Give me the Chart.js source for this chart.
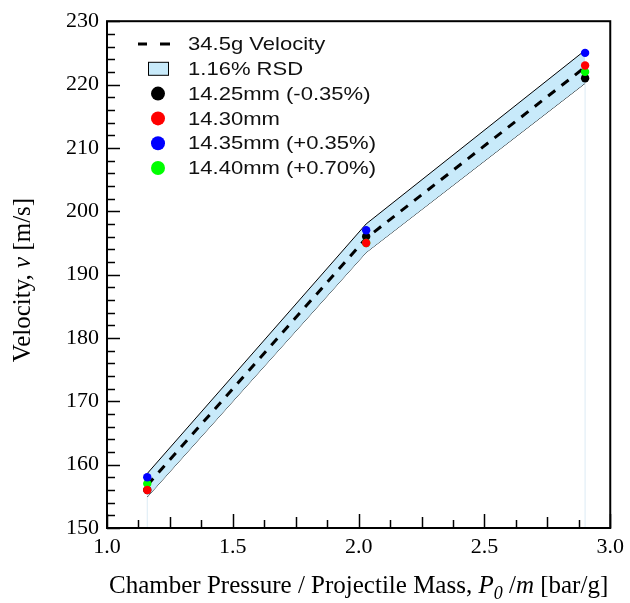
<!DOCTYPE html>
<html>
<head>
<meta charset="utf-8">
<script src="https://cdn.jsdelivr.net/npm/chart.js@4"></script>
<style>
  html, body { margin: 0; padding: 0; background: #fff; }
  #wrap { width: 630px; height: 603px; }
</style>
</head>
<body>
<div id="wrap"><canvas id="c" width="630" height="603"></canvas></div>
<script>
// Chamber pressure per projectile mass [bar/g]
const pressurePerMass = [1.16, 2.03, 2.90];
// Mean muzzle velocity of the 34.5 g projectile [m/s]
const meanVelocity = [156.75, 195.75, 222.75];
// Relative standard deviation band (upper / lower edge) [m/s]
const rsdUpper = [158.6, 198.0, 225.4];
const rsdLower = [154.9, 193.5, 220.2];
// Measured velocities per projectile diameter [m/s]
const v1425 = [156, 196, 221];
const v1430 = [156, 195, 223];
const v1435 = [158, 197, 225];
const v1440 = [157, 195, 222];
// Axis tick labels
const xTicks = [1.0, 1.5, 2.0, 2.5, 3.0];
const yTicks = [150, 160, 170, 180, 190, 200, 210, 220, 230];

const bandColor = '#c8eafa';
const serif = "'Liberation Serif', 'Times New Roman', serif";
const sans = "'Liberation Sans', Arial, sans-serif";

const pts = ys => pressurePerMass.map((x, i) => ({ x, y: ys[i] }));
const xMin = xTicks[0], xMax = xTicks[xTicks.length - 1];
const yMin = yTicks[0], yMax = yTicks[yTicks.length - 1];

// faint guide lines under the outer band ends
const last = pressurePerMass.length - 1;
const guides = [
  { x: pressurePerMass[0], y: yMin }, { x: pressurePerMass[0], y: rsdLower[0] },
  { x: pressurePerMass[0], y: null },
  { x: pressurePerMass[last], y: yMin }, { x: pressurePerMass[last], y: v1425[last] }
];

const marker = (label, ys, color, order) => ({
  label, data: pts(ys), order, showLine: false,
  pointRadius: 4.2, pointHoverRadius: 4.2, pointBorderWidth: 0,
  pointBackgroundColor: color, borderColor: color, backgroundColor: color
});

const datasets = [
  marker('14.35mm (+0.35%)', v1435, '#0000ff', 1),
  marker('14.30mm', v1430, '#ff0000', 2),
  marker('14.40mm (+0.70%)', v1440, '#00ff00', 3),
  marker('14.25mm (-0.35%)', v1425, '#000000', 4),
  { label: '34.5g Velocity', data: pts(meanVelocity), order: 5, showLine: true,
    borderColor: '#000', borderWidth: 3, borderDash: [9, 8], pointRadius: 0, fill: false },
  { label: '1.16% RSD', data: pts(rsdUpper), order: 6, showLine: true,
    borderColor: '#000', borderWidth: 1, pointRadius: 0, fill: '+1', backgroundColor: bandColor },
  { label: 'rsd-lower', data: pts(rsdLower), order: 7, showLine: true,
    borderColor: '#000', borderWidth: 1, pointRadius: 0, fill: false },
  { label: 'guides', data: guides, order: 8, showLine: true, spanGaps: false,
    borderColor: '#dcebf5', borderWidth: 1, pointRadius: 0, fill: false }
];

const legendRows = [
  { label: '34.5g Velocity', kind: 'dash' },
  { label: '1.16% RSD', kind: 'box' },
  { label: '14.25mm (-0.35%)', kind: 'dot', color: '#000000' },
  { label: '14.30mm', kind: 'dot', color: '#ff0000' },
  { label: '14.35mm (+0.35%)', kind: 'dot', color: '#0000ff' },
  { label: '14.40mm (+0.70%)', kind: 'dot', color: '#00ff00' }
];

function drawRich(ctx, segs, cx, cy, size) {
  const fontOf = s => (s.it ? 'italic ' : '') + (s.sub ? Math.round(size * 0.72) : size) + 'px ' + serif;
  let total = 0;
  segs.forEach(s => { ctx.font = fontOf(s); s.w = ctx.measureText(s.t).width; total += s.w; });
  let x = cx - total / 2;
  ctx.textAlign = 'left';
  ctx.textBaseline = 'alphabetic';
  segs.forEach(s => {
    ctx.font = fontOf(s);
    ctx.fillText(s.t, x, cy + (s.sub ? size * 0.25 : 0));
    x += s.w;
  });
}

const decorations = {
  id: 'decorations',
  afterDraw(chart) {
    const { ctx, chartArea: a, scales: { x, y } } = chart;
    ctx.save();
    ctx.strokeStyle = '#000';
    ctx.fillStyle = '#000';
    ctx.lineCap = 'butt';
    ctx.lineWidth = 1.5;
    // inward ticks on the bottom axis: minor every 0.125, major every 0.5
    const xSteps = Math.round((xMax - xMin) / 0.125);
    for (let i = 0; i <= xSteps; i++) {
      const px = Math.round(x.getPixelForValue(xMin + i * 0.125)) + 0.5;
      const len = i % 4 === 0 ? 14 : (i % 2 === 0 ? 11 : 8);
      ctx.beginPath(); ctx.moveTo(px, a.bottom); ctx.lineTo(px, a.bottom - len); ctx.stroke();
    }
    // inward ticks on the left axis: minor every 2, major every 10
    const ySteps = Math.round((yMax - yMin) / 2);
    for (let i = 0; i <= ySteps; i++) {
      const py = Math.round(y.getPixelForValue(yMin + i * 2)) + 0.5;
      const len = i % 5 === 0 ? 13 : 8;
      ctx.beginPath(); ctx.moveTo(a.left, py); ctx.lineTo(a.left + len, py); ctx.stroke();
    }
    // frame
    ctx.lineWidth = 2;
    ctx.strokeRect(a.left, a.top, a.right - a.left, a.bottom - a.top);

    // axis titles
    drawRich(ctx, [
      { t: 'Chamber Pressure / Projectile Mass, ' }, { t: 'P', it: true },
      { t: '0', it: true, sub: true }, { t: ' /' }, { t: 'm', it: true }, { t: ' [bar/g]' }
    ], (a.left + a.right) / 2, 593, 25);
    ctx.save();
    ctx.translate(30, 280);
    ctx.rotate(-Math.PI / 2);
    drawRich(ctx, [{ t: 'Velocity, ' }, { t: 'v', it: true }, { t: ' [m/s]' }], 0, 0, 25);
    ctx.restore();

    // legend
    const sx = 158, tx = 188, y0 = 44, dy = 24.8;
    legendRows.forEach((row, i) => {
      const ry = y0 + i * dy;
      if (row.kind === 'dash') {
        ctx.lineWidth = 3;
        ctx.beginPath();
        ctx.moveTo(138, ry); ctx.lineTo(147, ry);
        ctx.moveTo(160, ry); ctx.lineTo(170, ry);
        ctx.stroke();
      } else if (row.kind === 'box') {
        ctx.fillStyle = bandColor;
        ctx.fillRect(148.5, ry - 6.5, 20, 13);
        ctx.lineWidth = 1;
        ctx.strokeRect(148.5, ry - 6.5, 20, 13);
      } else {
        ctx.fillStyle = row.color;
        ctx.beginPath(); ctx.arc(sx, ry, 7, 0, Math.PI * 2); ctx.fill();
      }
      ctx.fillStyle = '#111';
      ctx.font = '19px ' + sans;
      ctx.textAlign = 'left';
      ctx.textBaseline = 'middle';
      ctx.save();
      ctx.translate(tx, ry + 1);
      ctx.scale(1.16, 1);
      ctx.fillText(row.label, 0, 0);
      ctx.restore();
    });
    ctx.restore();
  }
};

new Chart(document.getElementById('c'), {
  type: 'scatter',
  data: { datasets },
  options: {
    responsive: false,
    animation: false,
    devicePixelRatio: 1,
    layout: { padding: { left: 0, right: 17, top: 21, bottom: 0 } },
    plugins: { legend: { display: false }, tooltip: { enabled: false } },
    scales: {
      x: {
        type: 'linear', min: xMin, max: xMax,
        afterBuildTicks: s => { s.ticks = xTicks.map(v => ({ value: v })); },
        afterFit: s => { s.height = 75; },
        grid: { display: false, drawTicks: false },
        border: { display: false },
        ticks: {
          padding: 6, color: '#000', maxRotation: 0, autoSkip: false,
          font: { family: serif, size: 22 },
          callback: v => Number(v).toFixed(1)
        }
      },
      y: {
        type: 'linear', min: yMin, max: yMax,
        afterBuildTicks: s => { s.ticks = yTicks.map(v => ({ value: v })); },
        afterFit: s => { s.width = 107; },
        grid: { display: false, drawTicks: false },
        border: { display: false },
        ticks: {
          padding: 8, color: '#000', autoSkip: false,
          font: { family: serif, size: 22 },
          callback: v => String(v)
        }
      }
    }
  },
  plugins: [decorations]
});
</script>
</body>
</html>
